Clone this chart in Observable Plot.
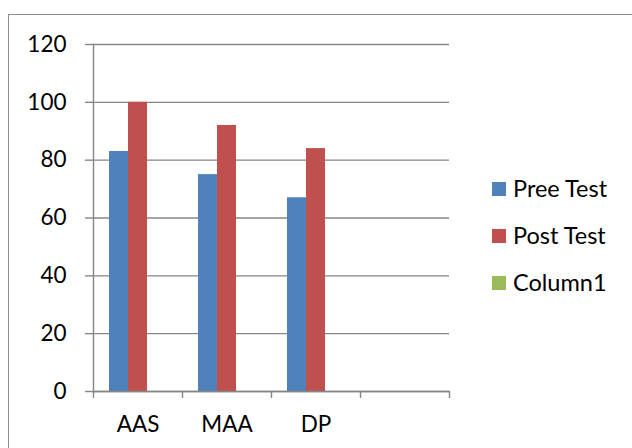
<!DOCTYPE html>
<html>
<head>
<meta charset="utf-8">
<script src="https://cdn.jsdelivr.net/npm/d3@7"></script>
<script src="https://cdn.jsdelivr.net/npm/@observablehq/plot@0.6"></script>
<style>
  html, body { margin: 0; padding: 0; background: #fff; }
  #wrap { position: relative; width: 632px; height: 448px; overflow: hidden; font-family: Lato, "Open Sans", sans-serif; }
  #chart { position: absolute; left: 0; top: 0; }
  #border { position: absolute; left: 8px; top: 14px; width: 700px; height: 500px; border: 1.5px solid #8c8c8c; pointer-events: none; }
  #legend { position: absolute; left: 492px; top: 0; }
  .item { position: absolute; left: 0; white-space: nowrap; font-size: 23.5px; color: #000; line-height: 1; }
  .sw { position: absolute; left: 0; width: 14px; height: 14px; }
  .lab { position: absolute; left: 21px; }
</style>
</head>
<body>
<div id="wrap">
  <div id="chart"></div>
  <div id="border"></div>
  <div id="legend"></div>
</div>
<script>
const categories = ["AAS", "MAA", "DP", ""];
const seriesNames = ["Pree Test", "Post Test", "Column1"];
const preeTest = [83, 75, 67, null];
const postTest = [100, 92, 84, null];
const column1 = [null, null, null, null];
const colors = ["#4F81BD", "#C0504D", "#9BBB59"];
const yTicks = [0, 20, 40, 60, 80, 100, 120];

const seriesValues = [preeTest, postTest, column1];
const rows = [];
categories.forEach((c, i) => {
  seriesNames.forEach((s, j) => {
    rows.push({category: c, series: s, value: seriesValues[j][i]});
  });
});

const W = 632, H = 448;
const mL = 93, mR = 183, mT = 44, mB = 57;
const step = (W - mL - mR) / categories.length;
const grey = "#868686";
const fs = 22.5;

const chart = Plot.plot({
  width: W,
  height: H,
  marginLeft: mL,
  marginRight: mR,
  marginTop: mT,
  marginBottom: mB,
  style: {fontFamily: "Lato, 'Open Sans', sans-serif", fontSize: fs + "px", background: "transparent"},
  fx: {domain: categories, padding: 0, label: null, axis: null},
  x: {domain: seriesNames, paddingInner: 0, paddingOuter: 0.75, axis: null},
  y: {domain: [0, 120], axis: null},
  color: {domain: seriesNames, range: colors},
  facet: {data: rows, x: "category"},
  marks: [
    Plot.gridY(yTicks, {stroke: grey, strokeOpacity: 1, strokeWidth: 1.4}),
    Plot.barY(rows, {fx: "category", x: "series", y: "value", fill: "series", filter: d => d.value != null}),
    Plot.ruleY([0], {stroke: grey, strokeWidth: 1.4}),
    Plot.frame({anchor: "left", facetAnchor: "left", stroke: grey, strokeWidth: 1.4}),
    Plot.axisY({ticks: yTicks, tickSize: 8, tickPadding: 19, stroke: grey, strokeWidth: 1.4, fill: "#000", fontSize: fs, label: null}),
    Plot.axisFx({anchor: "bottom", tickSize: 7, text: null, dx: -step / 2, stroke: grey, strokeWidth: 1.4, label: null}),
    Plot.axisFx({anchor: "bottom", ticks: [categories[categories.length - 1]], tickSize: 7, text: null, dx: step / 2, stroke: grey, strokeWidth: 1.4, label: null}),
    Plot.axisFx({anchor: "bottom", tickSize: 0, tickPadding: 25, fill: "#000", fontSize: fs, label: null})
  ]
});
document.getElementById("chart").appendChild(chart);

const legend = document.getElementById("legend");
const legendY = [189, 236, 283];
seriesNames.forEach((s, i) => {
  const item = document.createElement("div");
  item.className = "item";
  item.style.top = (legendY[i] - 12) + "px";
  const sw = document.createElement("div");
  sw.className = "sw";
  sw.style.background = colors[i];
  sw.style.top = "5px";
  const lab = document.createElement("div");
  lab.className = "lab";
  lab.textContent = s;
  item.appendChild(sw);
  item.appendChild(lab);
  legend.appendChild(item);
});
</script>
</body>
</html>
